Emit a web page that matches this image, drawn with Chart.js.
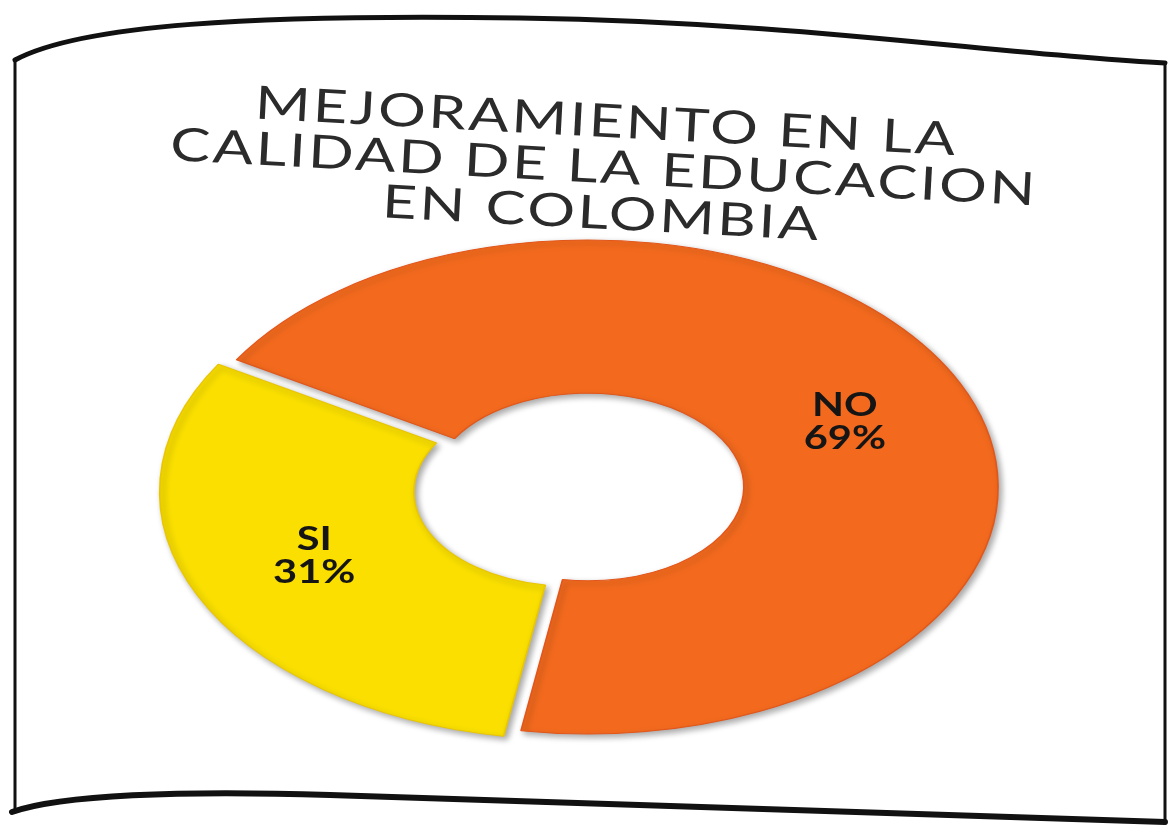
<!DOCTYPE html>
<html>
<head>
<meta charset="utf-8">
<title>Mejoramiento en la calidad de la educacion</title>
<script src="https://cdn.jsdelivr.net/npm/chart.js@4.4.1/dist/chart.umd.min.js"></script>
<style>
  html, body { margin: 0; padding: 0; background: #fff; }
  #wrap { width: 1170px; height: 825px; position: relative; }
</style>
</head>
<body>
<div id="wrap"><canvas id="dona"></canvas></div>
<script>
const categorias = ['NO', 'SI']
const porcentajes = [69, 31]
const colores = ['#F36A1E', '#FADF00']
const bordes = ['#E2561A', '#EAC600']
const titulo = ['MEJORAMIENTO EN LA', 'CALIDAD DE LA EDUCACION', 'EN COLOMBIA']

const ESTIRA = 1.66   // la foto deja la dona muy ancha
const TEXTO_X = 1.3   // y las letras tambien salen anchas

const marco = {
  id: 'marco',
  beforeDraw(chart) {
    const ctx = chart.ctx
    ctx.save()
    ctx.strokeStyle = '#111'
    ctx.lineCap = 'round'
    ctx.lineWidth = 5
    ctx.beginPath()
    ctx.moveTo(15, 60)
    ctx.bezierCurveTo(80, 25, 250, 14, 520, 18)
    ctx.bezierCurveTo(800, 22, 1000, 55, 1165, 63)
    ctx.stroke()
    ctx.lineWidth = 3
    ctx.beginPath(); ctx.moveTo(15, 60); ctx.lineTo(15, 812); ctx.stroke()
    ctx.beginPath(); ctx.moveTo(1165, 63); ctx.lineTo(1165, 822); ctx.stroke()
    ctx.lineWidth = 6
    ctx.beginPath()
    ctx.moveTo(12, 812)
    ctx.bezierCurveTo(60, 795, 180, 790, 330, 795)
    ctx.bezierCurveTo(700, 805, 1000, 815, 1165, 822)
    ctx.stroke()
    ctx.restore()

    // titulo un poco girado, como en la foto
    const cx = (chart.chartArea.left + chart.chartArea.right) / 2
    ctx.save()
    ctx.translate(cx + 16, 168)
    ctx.rotate(3 * Math.PI / 180)
    ctx.scale(TEXTO_X, 1)
    ctx.translate(-cx, -168)
    ctx.letterSpacing = '2px'
  },
  beforeDatasetsDraw(chart) {
    const ctx = chart.ctx
    ctx.restore() // fin del giro del titulo
    const arc = chart.getDatasetMeta(0).data[0]
    ctx.save()
    ctx.translate(arc.x, arc.y)
    ctx.scale(ESTIRA, 1)
    ctx.translate(-arc.x, -arc.y)
    ctx.shadowColor = 'rgba(0,0,0,0.35)'
    ctx.shadowBlur = 6
    ctx.shadowOffsetX = 3
    ctx.shadowOffsetY = 3
  },
  afterDatasetsDraw(chart) {
    const ctx = chart.ctx
    ctx.restore()
    const meta = chart.getDatasetMeta(0)
    ctx.save()
    ctx.fillStyle = '#151515'
    ctx.font = 'bold 32px Lato'
    ctx.textAlign = 'center'
    ctx.textBaseline = 'middle'
    meta.data.forEach((arc, i) => {
      const mid = (arc.startAngle + arc.endAngle) / 2
      const r = (arc.innerRadius + arc.outerRadius) / 2 + (arc.options.offset || 0) / 4
      const px = arc.x + Math.cos(mid) * r * ESTIRA
      const py = arc.y + Math.sin(mid) * r + (i === 0 ? 6 : -8)
      ctx.save()
      ctx.translate(px, py)
      ctx.scale(TEXTO_X, 1)
      ctx.fillText(categorias[i], 0, -16)
      ctx.fillText(porcentajes[i] + '%', 0, 17)
      ctx.restore()
    })
    ctx.restore()
  }
}

const donaData = {
  labels: categorias,
  datasets: [{
    data: porcentajes,
    backgroundColor: colores,
    borderColor: bordes,
    borderWidth: 1,
    offset: [0, 45],
    hoverOffset: 0
  }]
}

new Chart(document.querySelector('#dona'), {
  type: 'doughnut',
  data: donaData,
  options: {
    responsive: true,
    maintainAspectRatio: false,
    animation: false,
    rotation: -59,
    cutout: '38%',
    radius: 247,
    layout: { padding: { left: 6, right: 0, top: 0, bottom: 88 } },
    plugins: {
      legend: { display: false },
      tooltip: { enabled: false },
      title: {
        display: true,
        text: titulo,
        color: '#2b2b2b',
        font: { family: 'Lato', size: 46, weight: 'normal', lineHeight: 1 },
        padding: { top: 99, bottom: 0 }
      }
    }
  },
  plugins: [marco]
})
</script>
</body>
</html>
